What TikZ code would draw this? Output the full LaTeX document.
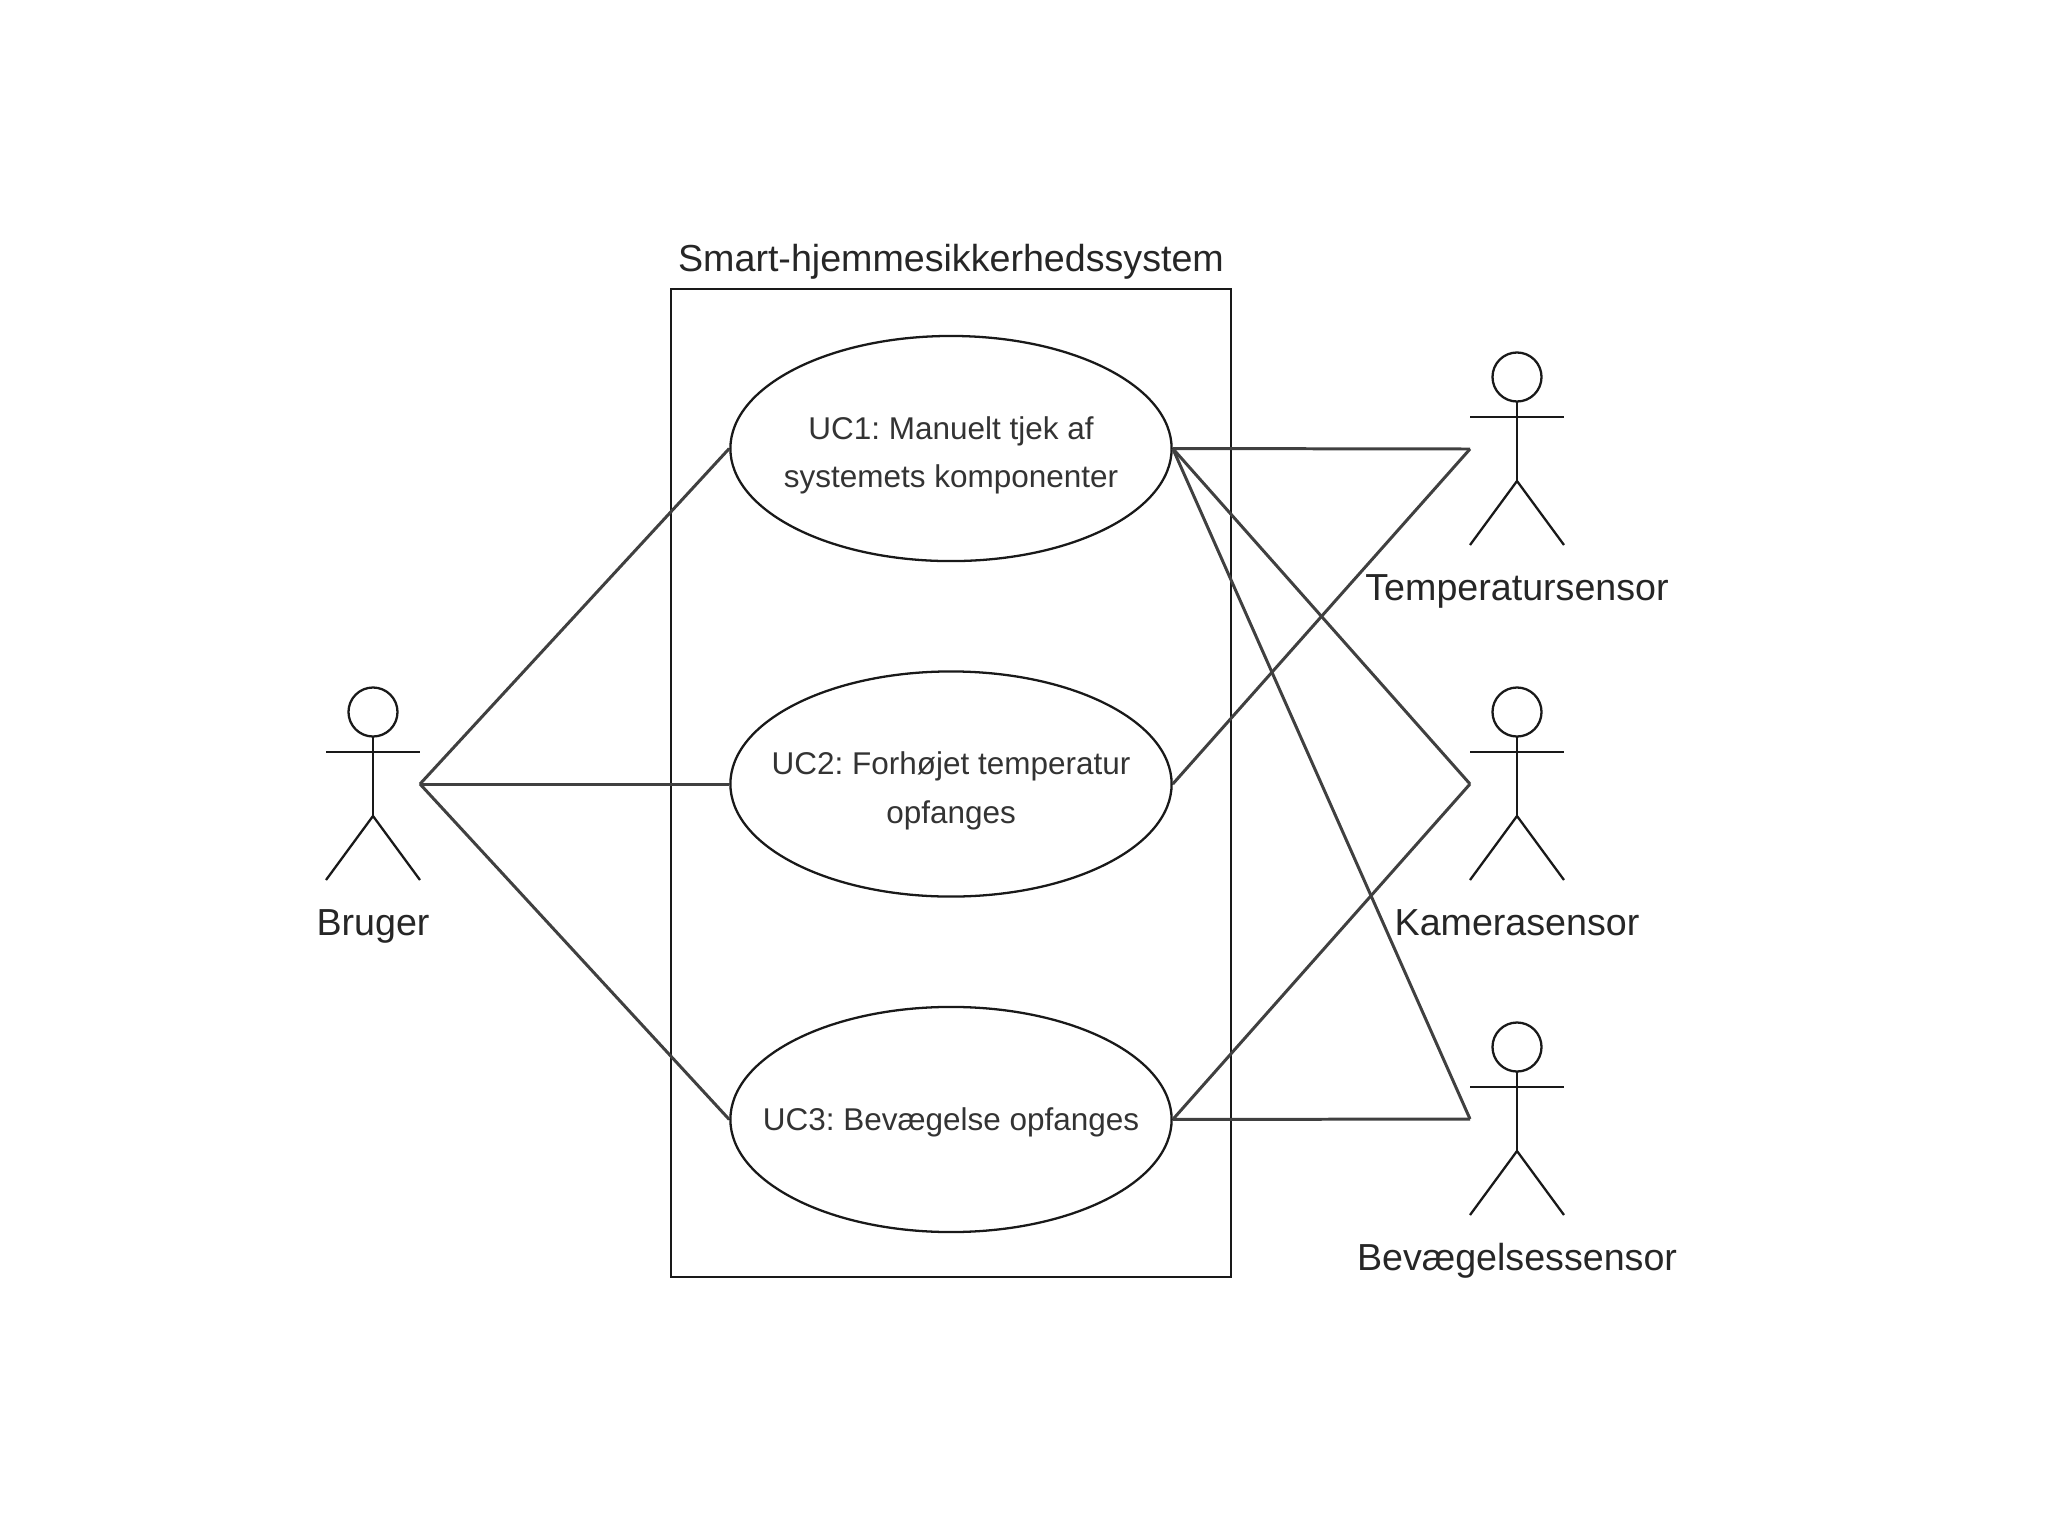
\documentclass[tikz,border=0pt]{standalone}
\usepackage{fontspec}
\setmainfont{Liberation Sans}
\usetikzlibrary{positioning, shapes.geometric, calc}
\newcommand{\ucstrut}[1]{\rule{0pt}{#1}}

\begin{document}
\begin{tikzpicture}[
    x=0.01cm, y=-0.01cm,
    node distance=1.08cm and 2.97cm,
    usecase/.style={ellipse, draw=black!90, line width=0.65pt, align=center, inner sep=-0.4cm, minimum height=2.25cm, minimum width=4.41cm, font=\fontsize{8.95}{13.7}\selectfont\frenchspacing, text=black!80},
    head/.style={circle, draw=black!90, line width=0.65pt, inner sep=0pt, minimum size=0.49cm},
    label/.style={font=\fontsize{10.7}{13}\selectfont, text=black!85, inner sep=0pt},
    limb/.style={line width=0.65pt, draw=black!90},
    link/.style={line width=0.85pt, draw=black!75}
]
    \useasboundingbox (0,0) rectangle (2048,1536);

    % system boundary
    \node [rectangle, draw=black!90, line width=0.65pt, minimum width=5.6cm, minimum height=9.88cm, inner sep=0pt] (system) at (951,783) {};
    \node [label, above=0.08cm of system] (title) {Smart-hjemmesikkerhedssystem};

    \node [usecase] (uc2) at (951,784) {\ucstrut{10.4pt}UC2: Forhøjet temperatur\\opfanges};
    \node [usecase, above=of uc2] (uc1) {\ucstrut{10.4pt}UC1: Manuelt tjek af\\systemets komponenter};
    \node [usecase, below=of uc2] (uc3) {\ucstrut{8.2pt}UC3: Bevægelse opfanges};

    % actors
    \foreach \name/\cx/\cy/\txt in {bruger/373/712/Bruger, temp/1517/377/Temperatursensor, kamera/1517/712/Kamerasensor, bevaeg/1517/1047/Bevægelsessensor} {
        \node [head] (\name head) at (\cx,\cy) {};
        \coordinate (\name neck) at (\cx,\cy+25);
        \coordinate (\name hip) at (\cx,\cy+104);
        \coordinate (\name armL) at (\cx-47,\cy+40);
        \coordinate (\name armR) at (\cx+47,\cy+40);
        \coordinate (\name footL) at (\cx-47,\cy+168);
        \coordinate (\name footR) at (\cx+47,\cy+168);
        \coordinate (\name side) at (\cx-47,\cy+72);
        \coordinate (\name front) at (\cx+47,\cy+72);
        \draw [limb] (\name neck) -- (\name hip);
        \draw [limb] (\name armL) -- (\name armR);
        \draw [limb] (\name footL) -- (\name hip) -- (\name footR);
        \node [label, anchor=base] (\name label) at (\cx,\cy+223) {\txt};
    }

    \draw [link] (brugerfront) -- (uc1.west);
    \draw [link] (brugerfront) -- (uc2.west);
    \draw [link] (brugerfront) -- (uc3.west);

    \draw [link] (uc1.east) -- (tempside);
    \draw [link] (uc1.east) -- (kameraside);
    \draw [link] (uc1.east) -- (bevaegside);
    \draw [link] (uc2.east) -- (tempside);
    \draw [link] (uc3.east) -- (kameraside);
    \draw [link] (uc3.east) -- (bevaegside);
\end{tikzpicture}
\end{document}
